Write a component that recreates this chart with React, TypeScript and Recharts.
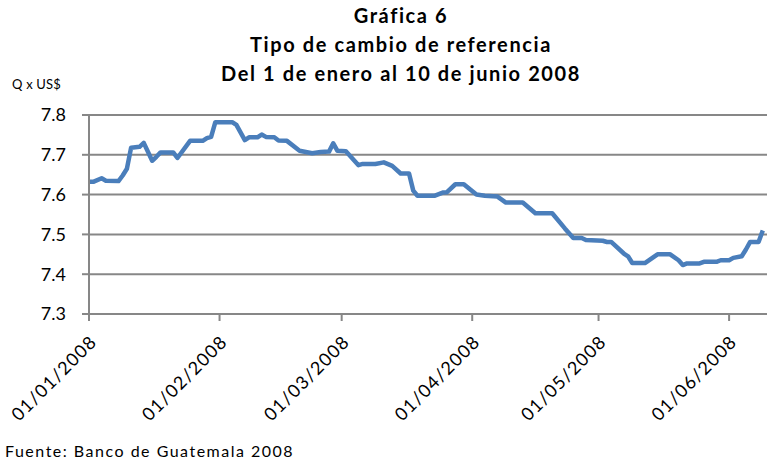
import { CartesianGrid, Line, LineChart, XAxis, YAxis } from "recharts";

// días desde el 1 de enero de 2008
const days = [
  0, 1, 3, 4, 7, 8, 9, 10, 12, 13, 15, 16, 17, 20, 21, 24, 27, 28, 29, 30,
  34, 35, 37, 38, 40, 41, 42, 44, 45, 47, 50, 53, 55, 57, 58, 59, 61, 64, 65, 68,
  70, 72, 74, 76, 77, 78, 82, 84, 85, 87, 89, 92, 94, 97, 99, 103, 106, 110, 113, 115,
  117, 118, 122, 123, 124, 127, 128, 129, 132, 135, 138, 140, 141, 142, 145, 146, 149, 150, 152, 153,
  155, 156, 157, 159, 160,
];

const rates = [
  7.632, 7.632, 7.641, 7.635, 7.634, 7.648, 7.665, 7.718, 7.72, 7.73, 7.685, 7.695, 7.706, 7.706, 7.692, 7.735, 7.735, 7.742, 7.745, 7.782,
  7.782, 7.775, 7.737, 7.744, 7.744, 7.751, 7.745, 7.744, 7.736, 7.735, 7.71, 7.704, 7.707, 7.708, 7.729, 7.71, 7.709, 7.674, 7.677, 7.677,
  7.681, 7.672, 7.653, 7.653, 7.61, 7.597, 7.597, 7.605, 7.606, 7.626, 7.626, 7.6, 7.597, 7.595, 7.58, 7.58, 7.553, 7.553, 7.515, 7.491,
  7.491, 7.486, 7.484, 7.481, 7.481, 7.452, 7.445, 7.428, 7.428, 7.45, 7.45, 7.435, 7.423, 7.427, 7.427, 7.431, 7.431, 7.435, 7.435, 7.441,
  7.445, 7.462, 7.481, 7.481, 7.51,
];

const monthTicks = [0, 31, 60, 91, 121, 152];
const monthLabels = ["01/01/2008", "01/02/2008", "01/03/2008", "01/04/2008", "01/05/2008", "01/06/2008"];
const yTicks = [7.3, 7.4, 7.5, 7.6, 7.7, 7.8];

const titleLines = ["Gráfica 6", "Tipo de cambio de referencia", "Del 1 de enero al 10 de junio 2008"];

const data = days.map((d, i) => ({ day: d, rate: rates[i] }));

const FONT = "Lato, 'Open Sans', sans-serif";
const GRID = "#878787";

function DateTick({ x, y, payload }: any) {
  const idx = monthTicks.indexOf(payload.value);
  return (
    <g transform={`translate(${x + 9},${y + 20})`}>
      <text x={0} y={0} textAnchor="end" transform="rotate(-45)" fontSize={18} letterSpacing={1.2} fill="#000" fontFamily={FONT}>
        {monthLabels[idx]}
      </text>
    </g>
  );
}

export default function App() {
  return (
    <div style={{ position: "absolute", left: 0, top: 0, width: 767, height: 463, background: "#fff", fontFamily: FONT }}>
      {titleLines.map((t, i) => (
        <div
          key={t}
          style={{ position: "absolute", left: 151, width: 500, top: 3 + i * 29, textAlign: "center", fontWeight: 700, fontSize: 20, letterSpacing: 1.6, color: "#000" }}
        >
          {t}
        </div>
      ))}
      <div style={{ position: "absolute", left: 12, top: 76, fontSize: 13, letterSpacing: 0.2, color: "#000" }}>Q x US$</div>
      <div style={{ position: "absolute", left: 5, top: 441, fontSize: 16, letterSpacing: 1.5, color: "#000" }}>Fuente: Banco de Guatemala 2008</div>
      <LineChart width={767} height={463} data={data} margin={{ top: 115, right: 0, bottom: 0, left: 0 }} style={{ position: "absolute", left: 0, top: 0 }}>
        <CartesianGrid vertical={false} stroke={GRID} strokeWidth={2} />
        <XAxis
          dataKey="day"
          type="number"
          domain={[0, 161]}
          ticks={monthTicks}
          interval={0}
          height={149}
          stroke={GRID}
          strokeWidth={2}
          tickSize={7}
          tick={<DateTick />}
          allowDataOverflow
        />
        <YAxis
          type="number"
          domain={[7.3, 7.8]}
          ticks={yTicks}
          width={89}
          stroke={GRID}
          strokeWidth={2}
          tickSize={7}
          tickMargin={16}
          tick={{ fontSize: 18, fill: "#000", fontFamily: FONT }}
          tickFormatter={(v: number) => v.toFixed(1)}
        />
        <Line dataKey="rate" type="linear" stroke="#4a7ebb" strokeWidth={4.5} dot={false} isAnimationActive={false} strokeLinejoin="round" />
      </LineChart>
    </div>
  );
}
